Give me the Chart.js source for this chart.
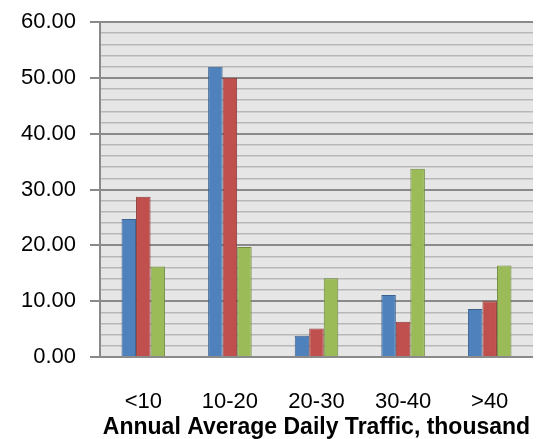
<!DOCTYPE html>
<html>
<head>
<meta charset="utf-8">
<script src="https://cdn.jsdelivr.net/npm/chart.js@4/dist/chart.umd.min.js"></script>
<style>
  html, body { margin: 0; padding: 0; background: #ffffff; }
  #wrap { width: 547px; height: 439px; }
</style>
</head>
<body>
<div id="wrap"><canvas id="c" width="547" height="439"></canvas></div>
<script>
// Traffic bands (thousand vehicles per day)
const categories = ['<10', '10-20', '20-30', '30-40', '>40'];

// Three series per band
const seriesA = [24.7, 52.0, 3.8, 11.1, 8.6];
const seriesB = [28.7, 50.0, 5.1, 6.3, 10.0];
const seriesC = [16.2, 19.7, 14.1, 33.7, 16.4];

// Y axis range and label spacing
const yMin = 0;
const yMax = 60;
const yMajorStep = 10;
const yMinorStep = 2;

const axisTitle = 'Annual Average Daily Traffic, thousand';

const FONT = "'Liberation Sans', Arial, sans-serif";

// Grey plot-area fill behind the bars
const plotBackground = {
  id: 'plotBackground',
  beforeDraw(chart) {
    const { ctx, chartArea: a } = chart;
    ctx.save();
    ctx.fillStyle = '#e6e6e6';
    ctx.fillRect(a.left, a.top, a.right - a.left, a.bottom - a.top);
    ctx.restore();
  }
};

const isMajor = v => Math.abs(v % yMajorStep) < 1e-6;

new Chart(document.getElementById('c'), {
  type: 'bar',
  data: {
    labels: categories,
    datasets: [
      { label: 'A', data: seriesA, backgroundColor: '#4f81bd', borderColor: '#3a6190', borderWidth: 1 },
      { label: 'B', data: seriesB, backgroundColor: '#c0504d', borderColor: '#8e3b39', borderWidth: 1 },
      { label: 'C', data: seriesC, backgroundColor: '#9bbb59', borderColor: '#718b40', borderWidth: 1 }
    ]
  },
  options: {
    responsive: false,
    animation: false,
    devicePixelRatio: 1,
    layout: { padding: { left: 0, right: 14, top: 22, bottom: 0 } },
    datasets: { bar: { categoryPercentage: 0.503, barPercentage: 1.0 } },
    plugins: {
      legend: { display: false },
      tooltip: { enabled: false },
      title: { display: false }
    },
    scales: {
      x: {
        grid: { display: false, drawTicks: false },
        border: { display: false },
        ticks: {
          color: '#000000',
          font: { family: FONT, size: 22 },
          padding: 32,
          maxRotation: 0,
          autoSkip: false
        },
        title: {
          display: true,
          text: axisTitle,
          color: '#000000',
          font: { family: FONT, size: 23, weight: 'bold', lineHeight: 1 },
          padding: { top: 0, bottom: 0 }
        },
        afterFit(scale) {
          scale.height = 82;
          scale.paddingLeft = 0;
          scale.paddingRight = 0;
        }
      },
      y: {
        min: yMin,
        max: yMax,
        ticks: {
          stepSize: yMinorStep,
          autoSkip: false,
          color: '#000000',
          font: { family: FONT, size: 22 },
          padding: 14,
          callback: v => isMajor(v) ? Number(v).toFixed(2) : ''
        },
        grid: {
          color: ctx => isMajor(ctx.tick.value) ? '#8a8a8a' : '#b8b8b8',
          lineWidth: ctx => isMajor(ctx.tick.value) ? 2 : 1.5,
          tickColor: ctx => isMajor(ctx.tick.value) ? '#8a8a8a' : 'rgba(0,0,0,0)',
          tickLength: 10,
          drawTicks: true
        },
        border: { display: true, color: '#8a8a8a', width: 2 },
        afterFit(scale) {
          scale.width = 100;
          scale.paddingTop = 0;
          scale.paddingBottom = 0;
        }
      }
    }
  },
  plugins: [plotBackground]
});
</script>
</body>
</html>
